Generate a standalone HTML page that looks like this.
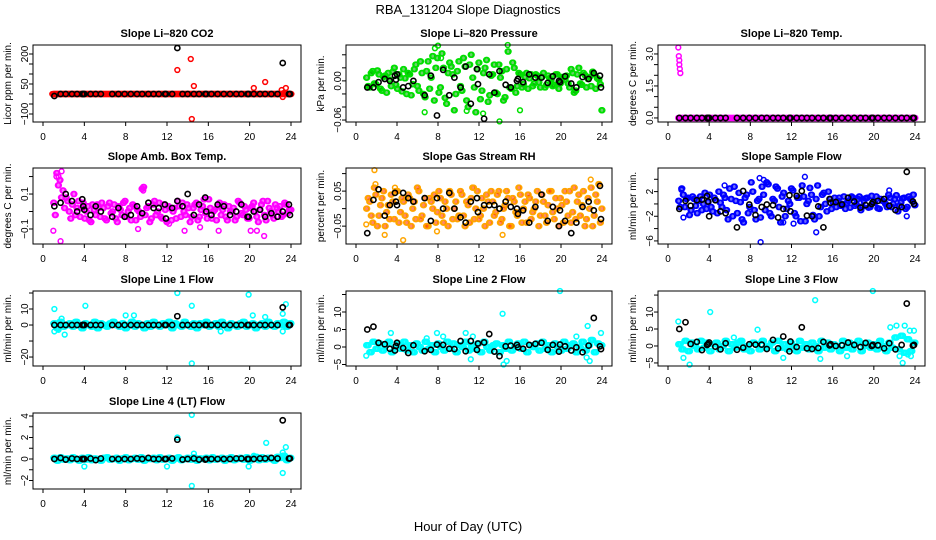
<!DOCTYPE html>
<html><head><meta charset="utf-8"><style>
html,body{margin:0;padding:0;background:#fff;}
svg{display:block;font-family:"Liberation Sans",sans-serif;}
</style></head><body>
<svg id="fig" width="936" height="540" viewBox="0 0 936 540">
<text x="468" y="14" text-anchor="middle" font-size="13">RBA_131204  Slope Diagnostics</text>
<text x="468" y="531" text-anchor="middle" font-size="13">Hour of Day (UTC)</text>
</svg>
<script>
const xTicks = [0,4,8,12,16,20,24];
const cloudHours = [1.0,1.3,1.6,1.9,2.2,2.5,2.8,3.1,3.4,3.7,4.0,4.3,4.6,4.9,5.2,5.5,5.8,6.1,6.4,6.7,7.0,7.3,7.6,7.9,8.2,8.5,8.8,9.1,9.4,9.7,10.0,10.3,10.6,10.9,11.2,11.5,11.8,12.1,12.4,12.7,13.0,13.3,13.6,13.9,14.2,14.5,14.8,15.1,15.4,15.7,16.0,16.3,16.6,16.9,17.2,17.5,17.8,18.1,18.4,18.7,19.0,19.3,19.6,19.9,20.2,20.5,20.8,21.1,21.4,21.7,22.0,22.3,22.6,22.9,23.2,23.5,23.8];
const cloudHoursB = [1.15,1.45,1.75,2.05,2.35,2.65,2.95,3.25,3.55,3.85,4.15,4.45,4.75,5.05,5.35,5.65,5.95,6.25,6.55,6.85,7.15,7.45,7.75,8.05,8.35,8.65,8.95,9.25,9.55,9.85,10.15,10.45,10.75,11.05,11.35,11.65,11.95,12.25,12.55,12.85,13.15,13.45,13.75,14.05,14.35,14.65,14.95,15.25,15.55,15.85,16.15,16.45,16.75,17.05,17.35,17.65,17.95,18.25,18.55,18.85,19.15,19.45,19.75,20.05,20.35,20.65,20.95,21.25,21.55,21.85,22.15,22.45,22.75,23.05,23.35,23.65,23.95];
const blackHours = [1.1,1.7,2.2,2.8,3.3,3.8,3.9,4.0,4.6,5.1,5.6,6.7,7.3,7.9,8.5,9.1,9.6,10.2,10.7,11.2,11.8,11.9,12.5,13.0,13.5,14.0,14.6,15.1,15.7,15.8,16.3,16.9,17.5,18.1,18.7,19.2,19.8,19.9,20.4,21.0,21.5,22.1,22.7,23.2,23.8,23.9];
const flatVals = [0,0,0,0,0,0,0,0,0,0,0,0,0,0,0,0,0,0,0,0,0,0,0,0,0,0,0,0,0,0,0,0,0,0,0,0,0,0,0,0,0,0,0,0,0,0,0,0,0,0,0,0,0,0,0,0,0,0,0,0,0,0,0,0,0,0,0,0,0,0,0,0,0,0,0,0,0];

const co2Black = [-10,0,0,0,0,0,0,0,0,0,0,0,0,0,0,0,0,0,0,0,0,0,0,230,0,0,0,0,0,0,0,0,0,0,0,0,0,0,0,0,0,0,0,155,0,0];
const co2ExtraH = [13.0,14.3,14.6,14.4,20.4,21.5,23.1,23.2,23.5,23.3,0.9];
const co2ExtraV = [120,175,40,-125,30,60,20,-15,30,5,0];

const presA = [0.005,-0.01,0.015,-0.005,0.01,-0.015,0.008,0.012,-0.008,0.02,-0.012,0.005,0.018,-0.02,0.01,-0.005,0.025,-0.015,0.012,-0.025,0.03,0.005,-0.03,0.035,-0.01,0.02,-0.035,0.028,0.01,-0.02,0.03,-0.015,0.022,-0.04,0.04,-0.01,0.018,-0.028,0.012,0.032,-0.022,0.01,-0.018,0.025,0.015,-0.025,0.045,-0.012,0.02,-0.008,0.01,-0.005,0.012,0.004,-0.008,0.01,-0.002,0.006,-0.01,0.008,0.002,-0.006,0.01,-0.004,0.005,0.008,-0.01,0.012,-0.015,0.02,-0.006,0.009,0.003,-0.008,0.01,0.004,-0.005];
const presB = [-0.008,0.012,-0.004,0.016,-0.012,0.006,-0.018,0.002,0.014,-0.006,0.01,-0.016,0.004,0.012,-0.022,0.018,-0.008,0.03,-0.02,0.015,-0.012,0.038,0.02,-0.018,0.042,-0.026,0.012,0.022,-0.045,0.015,-0.008,0.035,-0.03,0.025,0.005,-0.048,0.028,-0.015,0.02,-0.032,0.008,0.025,-0.02,0.005,-0.03,0.018,-0.01,0.028,-0.018,0.012,-0.01,0.006,-0.012,0.01,-0.004,0.008,-0.01,0.012,-0.006,0.004,-0.008,0.01,-0.012,0.006,0.002,-0.004,0.018,-0.018,0.01,-0.004,0.012,-0.01,0.006,0.014,-0.012,0.002,-0.045];
const presExtraH = [8.0,14.8,14.0,6.7,16.0,24.0,10.8,12.4,7.7,8.3];
const presExtraV = [0.054,0.055,-0.062,-0.048,-0.045,-0.045,-0.046,-0.05,0.05,0.035];
const presBlack = [-0.01,-0.01,-0.002,0.003,0.0,0.008,0.002,0.01,-0.01,-0.008,0.0,-0.022,0.008,-0.053,0.017,-0.022,0.005,-0.01,0.022,-0.035,0.018,-0.005,-0.058,0.01,-0.018,0.015,-0.006,-0.01,0.0,0.003,-0.002,0.01,0.005,0.005,-0.003,0.007,0.0,-0.002,0.007,-0.004,-0.01,0.006,0.003,0.012,0.008,-0.01];

const tempBlack = [0,0,0,0,0,0,0,0,0,0,0,0,0,0,0,0,0,0,0,0,0,0,0,0,0,0,0,0,0,0,0,0,0,0,0,0,0,0,0,0,0,0,0,0,0,0];
const tempExtraH = [1.0,1.05,1.1,1.1,1.15,1.2];
const tempExtraV = [3.3,2.9,2.7,2.5,2.3,2.1];

const ambA = [0.05,0.22,0.18,0.12,0.08,0.0,0.04,-0.02,0.06,0.02,-0.04,0.03,-0.06,0.01,0.04,-0.03,0.02,-0.05,0.05,0.0,-0.04,0.03,-0.02,0.06,0.0,-0.05,0.03,0.01,-0.03,0.14,0.02,-0.06,0.04,-0.02,0.05,-0.04,0.01,0.03,-0.05,0.02,0.06,-0.03,0.0,0.04,-0.06,0.02,0.05,-0.03,0.03,-0.01,0.07,-0.04,0.01,0.03,-0.02,0.04,-0.05,0.0,0.02,-0.03,0.05,-0.02,0.01,-0.04,0.03,0.0,-0.06,0.04,-0.02,0.06,0.0,-0.04,0.02,0.03,-0.02,0.04,0.01];
const ambB = [-0.02,0.15,0.08,0.02,0.06,-0.04,0.1,0.02,-0.03,0.05,0.0,-0.05,0.04,-0.02,0.02,0.05,-0.04,0.03,-0.01,0.04,-0.06,0.01,0.05,-0.03,0.02,0.04,-0.05,0.0,0.13,-0.02,0.03,-0.04,0.06,0.0,-0.03,0.04,-0.06,0.02,0.0,-0.04,0.03,0.05,-0.02,0.02,-0.03,0.04,-0.05,0.01,0.07,-0.04,0.02,0.0,-0.05,0.05,0.01,-0.03,0.03,0.0,-0.05,0.06,-0.01,0.03,-0.04,0.02,0.05,-0.03,0.01,0.06,-0.05,0.02,-0.02,0.04,0.0,-0.03,0.05,-0.01,0.01];
const ambExtraH = [1.0,1.7,1.8,9.2,9.7,12.2,13.7,15.2,17.0,20.1,20.7,21.4,1.3,1.5];
const ambExtraV = [-0.11,-0.17,0.23,-0.1,0.12,-0.07,-0.11,-0.09,-0.11,-0.11,-0.11,-0.14,0.2,0.2];
const ambBlack = [0.03,0.05,0.1,0.06,0.0,0.07,0.03,0.01,-0.02,0.03,0.0,-0.03,0.02,-0.03,-0.02,0.03,-0.01,0.05,0.02,0.02,0.04,-0.04,0.02,0.06,0.03,0.1,-0.02,0.04,0.08,0.0,-0.02,0.04,0.03,-0.02,0.0,0.04,-0.03,-0.03,0.0,0.01,-0.03,-0.01,-0.03,0.0,0.04,-0.02];

const rhA = [0.0,0.02,-0.04,0.04,-0.02,0.03,-0.05,0.01,0.04,-0.03,0.05,-0.01,0.02,-0.04,0.03,0.0,-0.03,0.05,-0.02,0.03,-0.05,0.02,0.04,-0.01,0.03,-0.04,0.0,0.05,-0.03,0.02,-0.02,0.04,-0.05,0.01,0.03,-0.03,0.05,-0.02,0.0,0.04,-0.04,0.02,-0.01,0.05,-0.03,0.01,0.03,-0.05,0.02,-0.02,0.04,0.0,-0.04,0.03,-0.01,0.02,-0.05,0.04,-0.02,0.01,0.05,-0.03,0.0,0.03,-0.04,0.02,0.05,-0.01,-0.03,0.04,0.01,-0.05,0.03,0.06,-0.02,0.02,-0.04];
const rhB = [0.03,-0.02,0.06,-0.05,0.01,0.05,-0.01,-0.03,0.02,0.05,-0.04,0.03,-0.02,0.04,-0.05,0.02,0.06,-0.03,0.01,-0.05,0.03,0.0,-0.04,0.05,-0.02,0.02,-0.05,0.04,0.0,-0.03,0.05,-0.02,0.02,-0.04,0.06,0.0,-0.03,0.03,-0.05,0.02,0.05,-0.02,0.04,-0.04,0.0,0.05,-0.05,0.03,-0.01,0.06,-0.04,0.02,0.04,-0.03,0.0,0.05,-0.02,0.02,-0.04,0.05,-0.01,0.03,-0.05,0.01,0.05,-0.02,-0.04,0.06,0.02,-0.02,0.05,-0.03,0.0,-0.05,0.04,0.07,0.0];
const rhExtraH = [1.8,1.9,4.6,14.3,22.9,1.0,2.8,7.9,3.8,11.5];
const rhExtraV = [0.11,0.07,-0.09,-0.075,0.083,-0.045,-0.075,-0.065,0.06,0.06];
const rhBlack = [-0.07,0.025,0.055,-0.02,0.01,0.045,0.02,0.01,0.045,0.03,0.02,0.03,-0.035,0.03,0.0,0.045,0.0,-0.025,-0.04,0.02,0.03,-0.01,0.01,0.01,0.01,0.0,0.02,0.005,0.0,-0.015,-0.005,-0.04,0.005,0.04,-0.035,0.005,-0.05,-0.005,-0.035,-0.07,-0.04,0.005,0.02,-0.005,0.065,-0.03];

const sfA = [0.5,2.5,-0.5,1.0,-1.0,0.8,-1.5,1.2,0.0,-0.8,1.5,-1.2,0.6,2.0,-0.5,1.0,-2.5,0.8,2.8,-1.5,0.3,-3.0,1.5,-0.5,2.0,-2.5,0.8,2.8,-1.0,3.2,-2.0,0.5,2.5,-3.0,1.8,-0.8,0.0,2.2,-2.0,1.0,3.0,-2.8,0.5,1.5,-2.5,3.0,-0.5,1.8,-1.2,0.8,0.3,-0.5,1.0,0.0,-0.8,0.5,1.2,-0.3,0.8,-1.0,0.5,1.0,-0.5,0.3,1.2,-0.8,0.5,0.0,1.5,-0.5,0.8,-1.2,0.3,1.0,-0.5,0.8,1.5];
const sfB = [-0.5,1.5,0.8,-1.8,1.2,-0.3,0.5,-1.0,1.8,0.3,-0.5,1.0,-1.5,0.2,1.5,-1.0,2.5,-2.0,0.5,1.8,-2.5,1.0,-1.5,3.5,-1.0,0.5,-2.2,1.5,3.5,-1.5,0.8,2.8,-0.5,1.2,-2.0,0.5,2.5,-1.5,1.0,-2.8,1.2,0.0,2.6,-1.8,0.8,-2.0,1.5,0.0,2.0,-0.8,1.0,0.5,-0.3,1.2,0.2,-0.6,1.0,0.0,1.2,-0.4,0.9,-0.6,1.3,0.2,-0.7,0.8,0.4,-0.5,1.0,0.0,1.4,-0.3,0.9,-0.8,1.2,0.5,-0.2];
const sfExtraH = [1.3,1.5,9.0,14.4,23.2,5.5,8.9,13.3,9.3,11.2,12.2,21.5];
const sfExtraV = [2.3,-2.2,-6.2,-4.6,-2.0,3.0,4.2,4.4,3.9,-3.0,-3.2,2.2];
const sfBlack = [-0.8,0.5,-0.3,0.6,0.7,1.3,0.4,-2.0,0.6,-1.2,-1.5,-3.8,2.1,-0.1,-1.8,-0.5,-0.1,-0.2,-2.2,-0.8,1.4,-1.2,1.3,2.1,-1.9,-2.0,-0.4,-3.8,0.8,0.2,0.3,-0.1,1.0,0.4,-0.6,-0.2,0.0,0.3,0.5,0.8,-0.3,-1.0,-0.5,5.2,0.4,0.0];

const l1A = [1,-2,2,-1,0,1,-1,2,0,-2,1,0,-1,2,-2,1,0,-1,1,2,0,-1,1,-2,0,2,-1,1,0,-2,1,-1,2,0,-1,1,0,2,-2,1,0,-1,2,0,-1,1,-2,1,0,2,-1,0,1,-1,2,0,-2,1,0,-1,1,2,-1,0,1,-2,0,1,-1,2,0,-1,1,0,2,-1,1];
const l1ExtraH = [1.1,1.1,2.1,4.1,8.0,8.8,13.0,14.4,14.4,17.2,19.9,20.3,23.2,23.5,23.2,21.5,1.5,1.8];
const l1ExtraV = [10,-4,-6,12,6,6,20,12,-24,-4,19,6,-4,13,7,5,-3,4];
const l1Black = [0,0,0,0,0,0,0,0,0,0,0,0,0,0,0,0,0,0,0,0,0,0,0,5.5,0,0,0,0,0,0,0,0,0,0,0,0,0,0,0,0,0,0,0,11,0,0];

const l2A = [0.5,-1.5,1.5,-0.5,1.0,-1.0,0.5,1.5,-1.5,0.0,1.0,-0.5,1.5,-1.0,0.5,-1.5,1.0,0.0,-1.0,1.5,-0.5,0.5,-1.5,1.0,0.0,-1.0,1.5,-0.5,1.0,-1.5,0.5,0.0,1.5,-1.0,0.5,-0.5,1.0,-1.5,1.5,0.0,-1.0,0.5,1.0,-1.5,0.5,-0.5,1.5,-1.0,0.0,1.0,-0.5,1.5,-1.5,0.5,0.0,1.0,-1.0,1.5,-0.5,0.5,-1.5,1.0,0.0,-1.0,1.5,-0.5,0.5,1.0,-1.5,0.0,1.5,-1.0,0.5,2.0,-1.5,1.0,0.5];
const l2ExtraH = [1.0,3.4,7.9,10.7,11.2,14.3,14.4,14.7,19.9,22.6,22.5,22.8,23.9,21.5,11.4,8.5,6.9];
const l2ExtraV = [-2.5,4,4,4,-3.5,9.5,-5,-4,16,6,-3,-4,4,3,3,3,2.5];
const l2Black = [5,5.8,1.2,0.8,-0.5,-1.0,0.3,1.2,-0.3,-1.7,0.5,-1.2,-0.8,0.7,0.6,-0.5,-0.6,1.7,-1.2,1.7,-0.8,1.0,1.3,3.7,-1.3,-2.6,0.2,0.4,0.6,-0.1,-0.5,0.6,0.9,1.2,-0.8,0.6,-1.3,0.7,0.2,-1.0,-0.1,-1.5,0.4,8.3,0.2,-0.6];

const l3A = [0.5,-1.0,1.5,-1.5,1.0,0.0,-1.0,1.5,-0.5,1.0,-1.5,0.5,1.0,-1.0,0.0,1.5,-1.5,0.5,-0.5,1.0,1.5,-1.0,0.0,-1.5,1.0,0.5,-1.0,1.5,-0.5,0.0,1.0,-1.5,1.5,-0.5,0.5,-1.0,1.0,0.0,-1.5,1.5,-0.5,0.5,-1.0,1.0,0.0,-1.5,1.5,-0.5,1.0,-1.0,0.5,0.0,-1.5,1.5,-0.5,1.0,-1.0,0.5,1.5,-1.5,0.0,1.0,-0.5,0.5,-1.0,1.5,0.0,-1.5,1.0,-0.5,2.5,-1.0,3.0,-2.0,2.0,-1.5,1.0];
const l3ExtraH = [1.0,1.5,2.1,4.1,8.7,11.2,14.3,14.8,17.4,19.9,21.6,22.2,22.5,22.8,23.0,23.5,23.9,23.3,23.6,6.4];
const l3ExtraV = [7.2,-3.5,-5.5,10,4.8,-3.5,13.5,-3.8,-3,16.2,5.5,6,-3,-5,6,4.5,4.5,-2.5,-3,2.5];
const l3Black = [5,7,0.6,1.2,-1.2,0.3,0.6,1.0,-0.2,-1.0,0.8,-1.1,-0.5,0.5,0.4,0.4,-0.9,1.8,-0.7,2.8,-1.6,1.3,-0.3,5.5,-0.7,-0.9,-0.6,1.2,0.2,0.5,0.0,0.2,1.0,0.3,-0.3,0.9,0.0,0.3,0.2,-0.7,0.8,-1.0,0.3,12.5,0.1,0.3];

const l4A = [0.1,-0.15,0.15,-0.05,0.05,-0.1,0.15,0.0,-0.15,0.1,-0.05,0.15,-0.1,0.05,0.0,-0.15,0.1,0.15,-0.05,0.0,0.1,-0.15,0.05,0.15,-0.1,0.0,0.1,-0.05,0.15,-0.15,0.05,0.0,0.1,-0.1,0.15,-0.05,0.0,0.1,-0.15,0.05,0.15,-0.1,0.0,0.1,-0.05,0.15,-0.15,0.05,0.0,0.1,-0.1,0.15,-0.05,0.0,0.1,-0.15,0.05,0.15,-0.1,0.0,0.1,-0.05,0.15,-0.15,0.05,0.2,-0.1,0.15,-0.05,0.1,0.0,-0.15,0.2,0.1,0.3,-0.1,0.1];
const l4ExtraH = [4.0,12.0,13.0,14.4,14.4,14.6,19.9,20.4,21.6,23.2,23.2,23.5];
const l4ExtraV = [-0.7,-0.7,2.0,4.1,-2.5,0.5,-0.7,0.3,1.5,0.6,-1.3,1.1];
const l4Black = [0,0.1,-0.05,0.05,0,0,0,0,0.05,-0.1,0.05,0,0,0,0,0.05,0,0.1,0,0,0,0,0.05,1.8,-0.05,0,0.05,-0.05,-0.05,0,0,0,0,0,0.05,0.05,0,0,0,0.05,0.05,0.1,0.05,3.6,0.05,0.05];

const panels = [
 {name:'co2',title:'Slope Li\u2013820 CO2',ylab:'Licor ppm per min.',col:0,row:0,y0:-140,y1:245,ticks:[-100,-50,0,50,100,150,200],labels:['-100','50','200'],color:'#ff0000',inner:'#ff0000',clouds:[[cloudHours,flatVals],[cloudHoursB,flatVals]],extraH:co2ExtraH,extraV:co2ExtraV,black:co2Black},
 {name:'pressure',title:'Slope Li\u2013820 Pressure',ylab:'kPa per min.',col:1,row:0,y0:-0.063,y1:0.055,ticks:[-0.06,-0.04,-0.02,0,0.02,0.04],labels:['-0.06','0.00'],color:'#00e000',inner:'#00b000',clouds:[[cloudHours,presA],[cloudHoursB,presB]],extraH:presExtraH,extraV:presExtraV,black:presBlack},
 {name:'li820-temp',title:'Slope Li\u2013820 Temp.',ylab:'degrees C per min.',col:2,row:0,y0:-0.19,y1:3.42,ticks:[0,0.5,1,1.5,2,2.5,3],labels:['0.0','1.5','3.0'],color:'#ff00ff',inner:'#ff00ff',clouds:[[cloudHours,flatVals],[cloudHoursB,flatVals]],extraH:tempExtraH,extraV:tempExtraV,black:tempBlack},
 {name:'amb-box-temp',title:'Slope Amb. Box Temp.',ylab:'degrees C per min.',col:0,row:1,y0:-0.186,y1:0.249,ticks:[-0.1,0,0.1,0.2],labels:['-0.1','0.1'],color:'#ff00ff',inner:'#ff00ff',clouds:[[cloudHours,ambA],[cloudHoursB,ambB]],extraH:ambExtraH,extraV:ambExtraV,black:ambBlack},
 {name:'gas-stream-rh',title:'Slope Gas Stream RH',ylab:'percent per min.',col:1,row:1,y0:-0.101,y1:0.116,ticks:[-0.05,0,0.05,0.1],labels:['-0.05','0.05'],color:'#ffa500',inner:'#ff3000',clouds:[[cloudHours,rhA],[cloudHoursB,rhB]],extraH:rhExtraH,extraV:rhExtraV,black:rhBlack},
 {name:'sample-flow',title:'Slope Sample Flow',ylab:'ml/min per min.',col:2,row:1,y0:-6.5,y1:5.83,ticks:[-6,-4,-2,0,2,4],labels:['-6','-2','2'],color:'#0000ff',inner:'#0000ff',clouds:[[cloudHours,sfA],[cloudHoursB,sfB]],extraH:sfExtraH,extraV:sfExtraV,black:sfBlack},
 {name:'line1-flow',title:'Slope Line 1 Flow',ylab:'ml/min per min.',col:0,row:2,y0:-25.6,y1:21.25,ticks:[-20,-10,0,10,20],labels:['-20','0','10'],color:'#00ffff',inner:'#00ffff',clouds:[[cloudHours,l1A],[cloudHoursB,l1A]],extraH:l1ExtraH,extraV:l1ExtraV,black:l1Black},
 {name:'line2-flow',title:'Slope Line 2 Flow',ylab:'ml/min per min.',col:1,row:2,y0:-5.43,y1:16,ticks:[-5,0,5,10,15],labels:['-5','0','5','10'],color:'#00ffff',inner:'#00ffff',clouds:[[cloudHours,l2A],[cloudHoursB,l2A]],extraH:l2ExtraH,extraV:l2ExtraV,black:l2Black},
 {name:'line3-flow',title:'Slope Line 3 Flow',ylab:'ml/min per min.',col:2,row:2,y0:-5.9,y1:16.2,ticks:[-5,0,5,10,15],labels:['-5','0','5','10'],color:'#00ffff',inner:'#00ffff',clouds:[[cloudHours,l3A],[cloudHoursB,l3A]],extraH:l3ExtraH,extraV:l3ExtraV,black:l3Black},
 {name:'line4-flow',title:'Slope Line 4 (LT) Flow',ylab:'ml/min per min.',col:0,row:3,y0:-2.79,y1:4.28,ticks:[-2,-1,0,1,2,3,4],labels:['-2','0','2','4'],color:'#00ffff',inner:'#00ffff',clouds:[[cloudHours,l4A],[cloudHoursB,l4A]],extraH:l4ExtraH,extraV:l4ExtraV,black:l4Black}
];
const colL=[33,346,658], colW=[268,266,267];
const rowT=[45,168,291,413], rowH=[77,76,75,76];
const smear=[0,0.08];
const NS='http://www.w3.org/2000/svg';
const svg=document.getElementById('fig');
function mk(tag,attrs,parent){const e=document.createElementNS(NS,tag);for(const k in attrs)e.setAttribute(k,attrs[k]);parent.appendChild(e);return e;}
panels.forEach(p=>{
  const L=colL[p.col],W=colW[p.col],T=rowT[p.row],H=rowH[p.row];
  const xs=h=>L+10+h*(W-20)/24;
  const ys=v=>T+H-(v-p.y0)/(p.y1-p.y0)*H;
  const g=mk('g',{},svg);
  
  
  const t=mk('text',{x:L+W/2,y:T-8,'text-anchor':'middle','font-size':'11','font-weight':'bold'},g);
  t.textContent=p.title;
  
  
  const yl=mk('text',{x:0,y:0,'text-anchor':'middle','font-size':'10',transform:`translate(${L-22},${T+H/2}) rotate(-90)`},g);
  yl.textContent=p.ylab;
  
  
  const pts=mk('g',{fill:'none'},g);
  
  
  p.clouds.forEach(([hs,vs])=>{
    const n=Math.min(hs.length,vs.length);
    smear.forEach(dx=>{
      for(let i=0;i<n;i++){
        const c=mk('circle',{cx:xs(hs[i]+dx),cy:ys(vs[i]),r:2.5,stroke:p.color,'stroke-width':1.5,fill:p.inner,'fill-opacity':0.35},pts);
        
        
      }
    });
  });
  for(let i=0;i<p.extraH.length;i++){
    const c=mk('circle',{cx:xs(p.extraH[i]),cy:ys(p.extraV[i]),r:2.4,stroke:p.color,'stroke-width':1.5},pts);
    
    
  }
  for(let i=0;i<Math.min(blackHours.length,p.black.length);i++){
    const c=mk('circle',{cx:xs(blackHours[i]),cy:ys(p.black[i]),r:2.6,stroke:'#000','stroke-width':1.6},pts);
    
    
  }
  const box=mk('rect',{x:L,y:T,width:W,height:H,fill:'none',stroke:'#000','stroke-width':1},g);
  
  
  const xa=mk('g',{},g);
  
  
  mk('line',{x1:xs(xTicks[0]),x2:xs(xTicks[xTicks.length-1]),y1:T+H,y2:T+H,stroke:'#000'},xa);
  xTicks.forEach(v=>{
    mk('line',{x1:xs(v),x2:xs(v),y1:T+H,y2:T+H+4,stroke:'#000'},xa);
    const tx=mk('text',{x:xs(v),y:T+H+18,'text-anchor':'middle','font-size':'10'},xa);
    tx.textContent=v;
    
    
  });
  const ya=mk('g',{},g);
  
  
  mk('line',{x1:L,x2:L,y1:ys(p.ticks[0]),y2:ys(p.ticks[p.ticks.length-1]),stroke:'#000'},ya);
  p.ticks.forEach(v=>mk('line',{x1:L-4,x2:L,y1:ys(v),y2:ys(v),stroke:'#000'},ya));
  p.labels.forEach(s=>{
    const v=parseFloat(s);
    const tx=mk('text',{x:0,y:0,'text-anchor':'middle','font-size':'10',transform:`translate(${L-5},${ys(v)}) rotate(-90)`},ya);
    tx.textContent=s.replace('-','\u2212');
    
    
  });
});
</script>
</body></html>
